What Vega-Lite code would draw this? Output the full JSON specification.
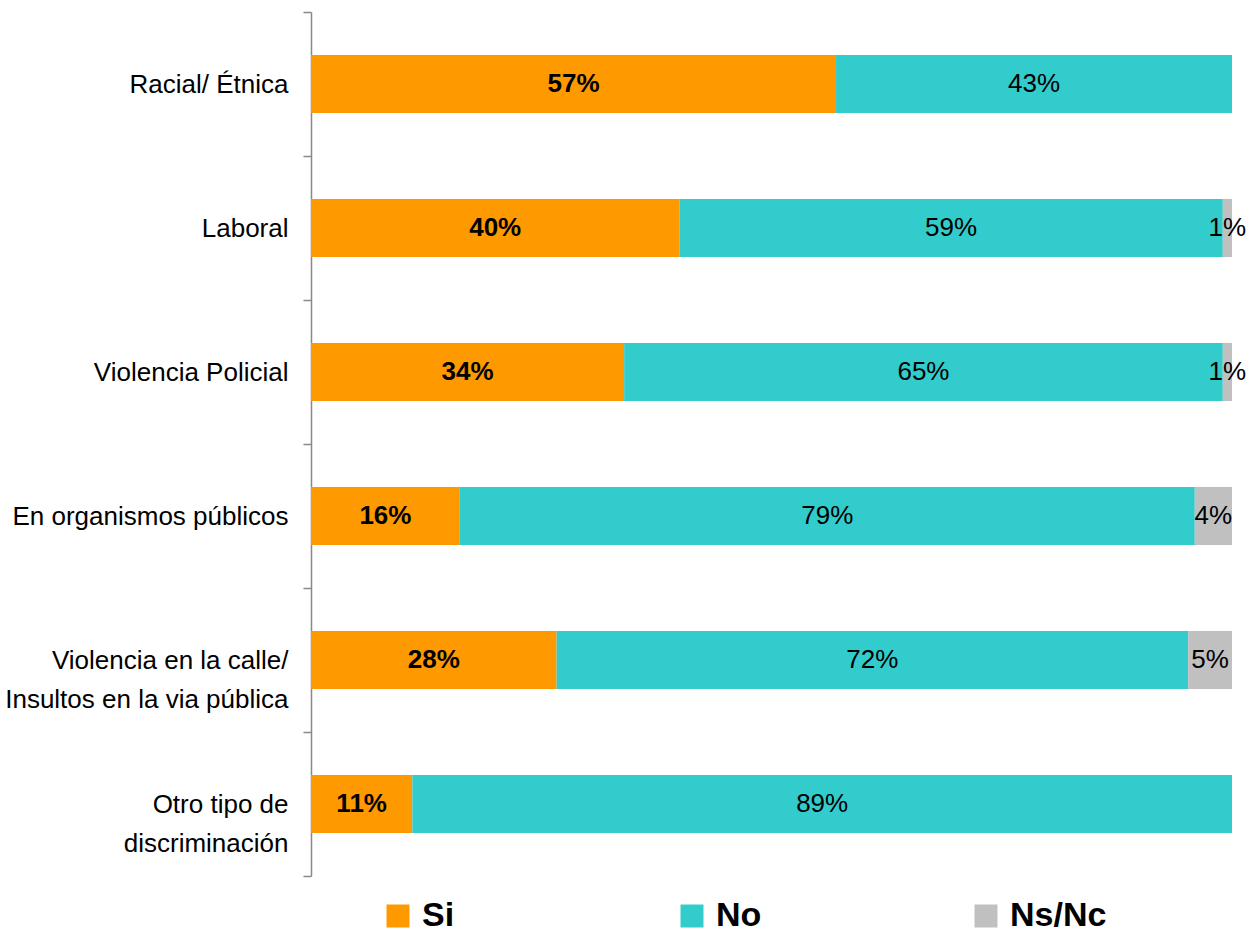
{
  "$schema": "https://vega.github.io/schema/vega-lite/v6.json",
  "width": 921,
  "height": 864,
  "autosize": {"type": "none"},
  "padding": {"left": 311, "top": 12, "right": 20, "bottom": 54},
  "background": "white",
  "config": {"view": {"stroke": null}, "font": "Liberation Sans"},
  "data": {
    "values": [
      {"cat": "Racial/ Étnica", "resp": "Si", "order": 1, "value": 57},
      {"cat": "Racial/ Étnica", "resp": "No", "order": 2, "value": 43},
      {"cat": "Laboral", "resp": "Si", "order": 1, "value": 40},
      {"cat": "Laboral", "resp": "No", "order": 2, "value": 59},
      {"cat": "Laboral", "resp": "Ns/Nc", "order": 3, "value": 1},
      {"cat": "Violencia Policial", "resp": "Si", "order": 1, "value": 34},
      {"cat": "Violencia Policial", "resp": "No", "order": 2, "value": 65},
      {"cat": "Violencia Policial", "resp": "Ns/Nc", "order": 3, "value": 1},
      {"cat": "En organismos públicos", "resp": "Si", "order": 1, "value": 16},
      {"cat": "En organismos públicos", "resp": "No", "order": 2, "value": 79},
      {"cat": "En organismos públicos", "resp": "Ns/Nc", "order": 3, "value": 4},
      {"cat": "Violencia en la calle/|Insultos en la via pública", "resp": "Si", "order": 1, "value": 28},
      {"cat": "Violencia en la calle/|Insultos en la via pública", "resp": "No", "order": 2, "value": 72},
      {"cat": "Violencia en la calle/|Insultos en la via pública", "resp": "Ns/Nc", "order": 3, "value": 5},
      {"cat": "Otro tipo de|discriminación", "resp": "Si", "order": 1, "value": 11},
      {"cat": "Otro tipo de|discriminación", "resp": "No", "order": 2, "value": 89}
    ]
  },
  "transform": [
    {"stack": "value", "groupby": ["cat"], "sort": [{"field": "order"}], "offset": "normalize", "as": ["v0", "v1"]},
    {"calculate": "(datum.v0 + datum.v1) / 2", "as": "mid"},
    {"calculate": "datum.value + '%'", "as": "lbl"}
  ],
  "encoding": {
    "y": {
      "field": "cat",
      "type": "nominal",
      "sort": null,
      "scale": {"paddingInner": 0, "paddingOuter": 0},
      "axis": {
        "title": null,
        "labelExpr": "split(datum.label, '|')",
        "labelFontSize": 26,
        "labelColor": "black",
        "labelPadding": 15,
        "labelLimit": 500,
        "labelLineHeight": 39,
        "tickSize": 8,
        "tickColor": "#888888",
        "tickWidth": 1.5,
        "domainColor": "#888888",
        "domainWidth": 1.5,
        "tickBand": "extent"
      }
    }
  },
  "layer": [
    {
      "mark": {"type": "bar", "height": {"band": 0.403}},
      "encoding": {
        "x": {"field": "v0", "type": "quantitative", "scale": {"domain": [0, 1], "nice": false}, "axis": null},
        "x2": {"field": "v1"},
        "color": {
          "field": "resp",
          "type": "nominal",
          "scale": {"domain": ["Si", "No", "Ns/Nc"], "range": ["#FF9900", "#33CCCC", "#C0C0C0"]},
          "legend": {
            "title": null,
            "orient": "none",
            "direction": "horizontal",
            "legendX": 70,
            "legendY": 887,
            "padding": 0,
            "symbolType": "square",
            "symbolSize": 529,
            "symbolStrokeWidth": 0,
            "labelFontSize": 34,
            "labelFontWeight": "bold",
            "labelColor": "black",
            "labelOffset": 7,
            "gridAlign": "all",
            "columnPadding": 156
          }
        }
      }
    },
    {
      "transform": [{"filter": "datum.resp === 'Si'"}],
      "mark": {"type": "text", "fontSize": 26, "fontWeight": "bold", "color": "black"},
      "encoding": {
        "x": {"field": "mid", "type": "quantitative"},
        "text": {"field": "lbl"}
      }
    },
    {
      "transform": [{"filter": "datum.resp !== 'Si'"}],
      "mark": {"type": "text", "fontSize": 26, "color": "black"},
      "encoding": {
        "x": {"field": "mid", "type": "quantitative"},
        "text": {"field": "lbl"}
      }
    }
  ]
}
